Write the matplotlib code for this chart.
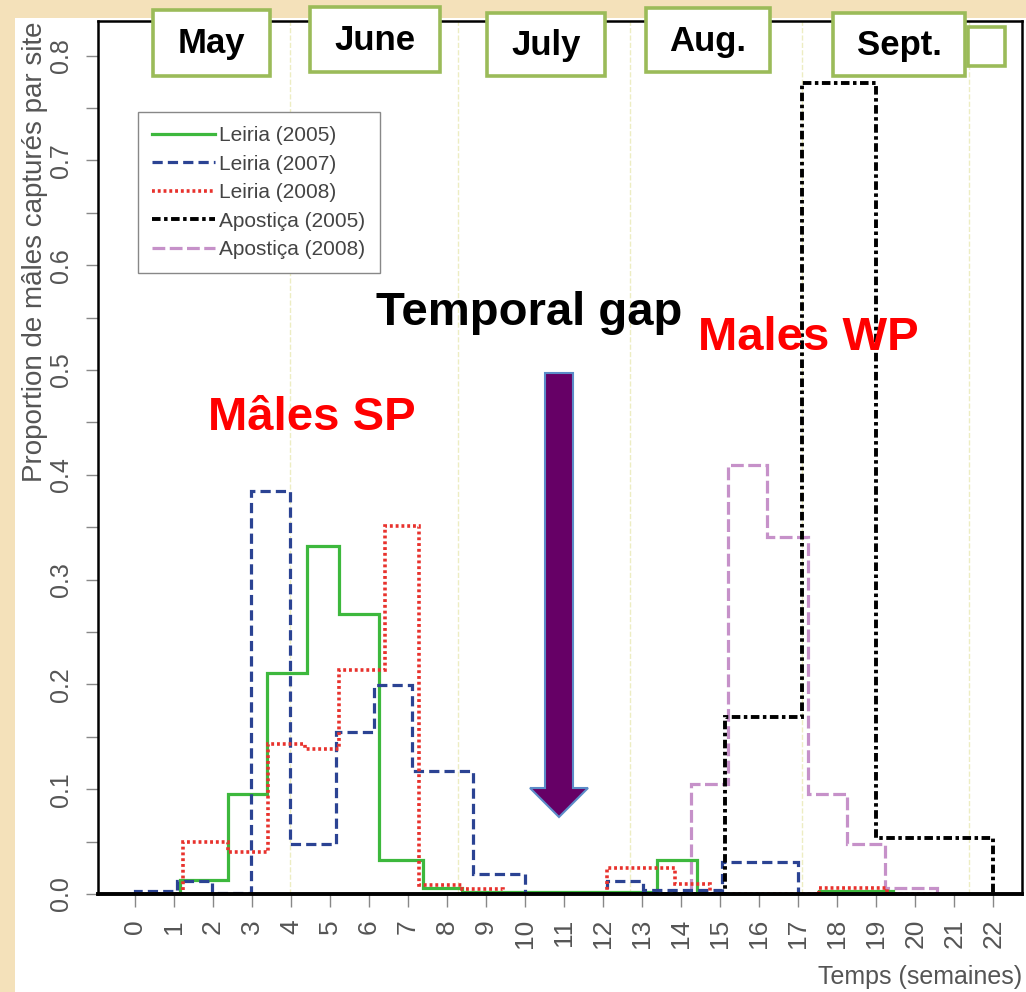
import numpy as np
import matplotlib.pyplot as plt
from matplotlib.lines import Line2D
from matplotlib.patches import Rectangle, Polygon
import matplotlib.ticker as ticker

plt.rcParams['font.family'] = ['Liberation Sans', 'DejaVu Sans']

# bords des paliers (semaines) et proportions
weeks_l05 = [0, 1.15, 2.38, 3.38, 4.41, 5.23, 6.26, 7.38, 8.38, 13.38, 14.41, 17.54, 19.44]
prop_l05 = [0, 0.013, 0.095, 0.211, 0.332, 0.267, 0.032, 0.006, 0.002, 0.032, 0.0, 0.003]

weeks_l07 = [0, 1.08, 1.97, 2.97, 3.97, 5.15, 6.13, 7.10, 8.67, 10.0, 12.10, 13.03, 15.05, 17.0, 17.3]
prop_l07 = [0.003, 0.012, 0.001, 0.385, 0.048, 0.155, 0.199, 0.117, 0.019, 0.0, 0.012, 0.004, 0.031, 0.0]

weeks_l08 = [0, 1.23, 2.38, 3.41, 4.36, 5.23, 6.41, 7.28, 8.38, 9.44, 12.10, 13.85, 14.74, 17.54, 19.28, 20.56]
prop_l08 = [0, 0.050, 0.040, 0.143, 0.138, 0.214, 0.351, 0.009, 0.005, 0.0, 0.025, 0.010, 0.0, 0.006, 0.0]

weeks_a05 = [13.0, 15.13, 17.10, 19.0, 22.0]
prop_a05 = [0, 0.169, 0.774, 0.053]

weeks_a08 = [13.0, 14.26, 15.21, 16.21, 17.26, 18.26, 19.23, 20.56]
prop_a08 = [0, 0.105, 0.409, 0.341, 0.095, 0.048, 0.006]

labels = ['Leiria (2005)', 'Leiria (2007)', 'Leiria (2008)', 'Apostiça (2005)', 'Apostiça (2008)']

# debut de chaque mois, en semaines
month_starts = [3.97, 8.28, 12.69, 17.10, 21.38]
month_names = ['May', 'June', 'July', 'Aug.', 'Sept.']

series = [(weeks_l05, prop_l05), (weeks_l07, prop_l07), (weeks_l08, prop_l08),
          (weeks_a05, prop_a05), (weeks_a08, prop_a08)]
styles = [
    dict(color='#3DB83D', linestyle='-', lw=2.3),
    dict(color='#2B4393', linestyle=(0, (3.2, 1.6)), lw=2.3),
    dict(color='#E8322D', linestyle=(0, (0.8, 0.8)), lw=2.6),
    dict(color='black', linestyle=(0, (2.2, 0.9, 0.9, 0.9)), lw=2.8),
    dict(color='#C691C9', linestyle=(0, (4.0, 1.4)), lw=2.3),
]
draw_order = [4, 0, 1, 2, 3]

fig = plt.figure(figsize=(10.26, 9.92), dpi=100, facecolor='#F4E1BA')
W, H = 1026, 992

# fond blanc du graphique d'origine
fig.patches.append(Rectangle((15 / W, 0), 1 - 15 / W, 1 - 18 / H, transform=fig.transFigure,
                             facecolor='white', edgecolor='none', zorder=-1))

ax = fig.add_axes([98 / W, 1 - 894 / H, (1022 - 98) / W, (894 - 21) / H])
ax.set_facecolor('white')

for m in month_starts:
    ax.axvline(m, color='#EDEDC2', ls='--', lw=1, zorder=0.5)

for i in draw_order:
    x, y = series[i]
    ax.stairs(y, x, baseline=0, fill=False, zorder=2, **styles[i])

ax.set_xlim(-0.95, 22.74)
ax.set_ylim(0, 0.833)

ax.set_xticks(range(23))
ax.yaxis.set_major_locator(ticker.MultipleLocator(0.1))
ax.yaxis.set_minor_locator(ticker.MultipleLocator(0.05))
ax.yaxis.set_major_formatter(ticker.FormatStrFormatter('%.1f'))
ax.tick_params(axis='both', which='both', length=9, width=1, color='#888888',
               labelcolor='#555555')
ax.tick_params(axis='x', labelrotation=90, labelsize=19, pad=9)
ax.tick_params(axis='y', labelrotation=90, labelsize=18, pad=9)
for lbl in ax.get_yticklabels():
    lbl.set_va('center')

for side in ['left', 'right', 'top']:
    ax.spines[side].set_linewidth(1.8)
ax.spines['bottom'].set_linewidth(2.8)

ax.set_xlabel('Temps (semaines)', loc='right', fontsize=18, color='#555555', labelpad=12)
ax.set_ylabel('Proportion de mâles capturés par site', loc='top', fontsize=20,
              color='#555555', labelpad=1)

handles = [Line2D([], [], **styles[i]) for i in range(5)]
leg = ax.legend(handles, labels, loc='upper left', bbox_to_anchor=(0.043, 0.896),
                fontsize=15, handlelength=3.0, handletextpad=0.2, labelspacing=0.45,
                borderpad=0.7, fancybox=False, framealpha=1, edgecolor='#888888',
                borderaxespad=0)
leg.get_frame().set_linewidth(1)
for t in leg.get_texts():
    t.set_color('#444444')

# annotations ajoutees par-dessus (coordonnees en pixels)
ov = fig.add_axes([0, 0, 1, 1], zorder=5)
ov.set_xlim(0, W)
ov.set_ylim(H, 0)
ov.axis('off')

boxes = [(153, 10, 270, 76), (310, 7, 440, 72), (487, 13, 605, 76),
         (646, 8, 770, 72), (833, 13, 965, 76)]
for (x0, y0, x1, y1), name in zip(boxes, month_names):
    ov.add_patch(Rectangle((x0, y0), x1 - x0, y1 - y0, facecolor='white',
                           edgecolor='#9BBB59', lw=2.6))
    ov.text((x0 + x1) / 2, (y0 + y1) / 2 + 1, name, ha='center', va='center',
            fontsize=25, fontweight='bold', color='black')
ov.add_patch(Rectangle((968, 27), 37, 39, facecolor='white', edgecolor='#9BBB59', lw=2.6))

arrow = [(545, 373), (573, 373), (573, 788), (588, 788), (559, 817),
         (530, 788), (545, 788)]
ov.add_patch(Polygon(arrow, closed=True, facecolor='#660066', edgecolor='#5B8CC8', lw=1.5))

ov.text(529, 325, 'Temporal gap', ha='center', va='baseline', fontsize=34,
        fontweight='bold', color='black')
ov.text(808, 350, 'Males WP', ha='center', va='baseline', fontsize=34,
        fontweight='bold', color='#FF0000')
ov.text(312, 430, 'Mâles SP', ha='center', va='baseline', fontsize=34,
        fontweight='bold', color='#FF0000')

fig.savefig('out.png', dpi=100, facecolor=fig.get_facecolor())
